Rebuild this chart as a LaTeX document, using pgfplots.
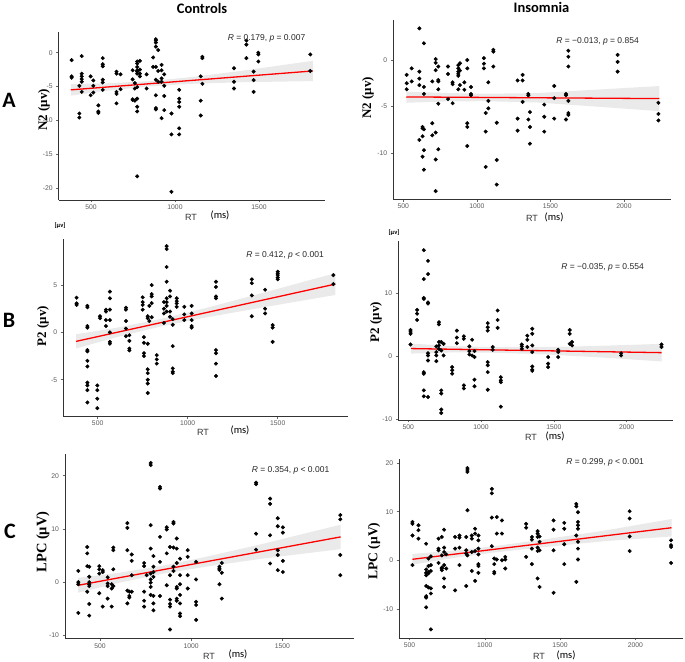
\documentclass[border=0pt]{standalone}
\usepackage{fontspec}
\setmainfont{Liberation Sans}
\newfontfamily\tnr{Liberation Serif}
\newfontfamily\calibri{Carlito}
\usepackage{pgfplots}
\pgfplotsset{compat=1.18}

\pgfplotsset{
  panel/.style={
    scale only axis, anchor=south west, clip=false,
    axis x line*=bottom, axis y line*=left,
    axis line style={black!80, line width=0.6pt, -},
    tick align=outside, major tick length=2.5pt,
    tick style={black!60, line width=0.5pt},
    ticklabel style={font=\fontsize{6.8}{7}\selectfont, text=black!65},
    xticklabel style={yshift=1pt},
    /pgf/number format/assume math mode=true,
    /pgf/number format/set thousands separator={},
  },
  ctrl/.style={panel, xmin=308, xmax=1892, xtick={500,1000,1500}},
  ins/.style={panel, xmin=432, xmax=2319, xtick={500,1000,1500,2000}},
  pts/.style={only marks, mark=*, mark size=1.8pt, black},
  band/.style={draw=none, fill=black!14, fill opacity=0.58},
  fit/.style={red, line width=1.3pt},
}

\begin{document}
\begin{tikzpicture}
\useasboundingbox (0,0) rectangle (685pt,-661pt);

% ---------- A controls
\begin{axis}[ctrl, at={(58.7pt,-199.9pt)}, width=266.2pt, height=168.1pt,
  ymin=-21.8, ymax=3.1, ytick={-20,-15,-10,-5,0}]
\addplot[pts] coordinates {
(385,-1.1)(385,-3.5)(385,-3.7)
(431,-4.9)(431,-9.0)(431,-9.6)
(445,-0.5)(445,-3.1)(445,-3.5)(445,-3.9)(445,-4.3)(445,-5.8)
(498,-3.5)(498,-6.3)
(514,-4.1)(514,-4.9)(514,-5.9)
(544,-7.8)(544,-8.7)(544,-8.9)
(570,-0.8)(570,-1.7)(570,-2.0)(570,-4.0)(570,-4.4)(570,-5.5)
(652,-2.8)(652,-3.1)(652,-5.8)(652,-6.1)(652,-7.5)
(676,-3.2)(676,-5.4)
(748,-2.6)(748,-3.95)(748,-6.9)(748,-7.0)
(761,-4.5)(761,-5.3)(761,-7.1)
(775,-1.3)(775,-1.6)(775,-2.1)(775,-2.6)(775,-2.8)(775,-3.1)(775,-5.1)(775,-6.8)(775,-8.0)(775,-8.7)(775,-18.3)
(791,-1.2)(791,-2.5)(791,-3.1)(791,-3.5)
(831,-3.2)(831,-5.3)
(870,-0.7)(870,-2.1)
(886,2.0)(886,1.8)(886,1.5)(886,0.9)(886,-2.1)(886,-4.0)(886,-6.3)(886,-8.2)(886,-8.4)
(900,0.4)(900,-2.7)(900,-4.3)
(920,-1.8)(920,-2.6)(920,-3.8)(920,-4.3)(920,-9.7)
(936,-3.2)(936,-4.9)(936,-6.4)(936,-8.5)
(979,-9.0)(979,-12.1)(979,-20.6)
(1025,-5.5)(1025,-6.8)(1025,-7.3)(1025,-8.0)(1025,-11.2)(1025,-12.1)
(1153,-3.5)(1153,-7.1)(1153,-9.3)
(1163,-0.6)(1163,-0.8)(1163,-4.6)
(1351,-2.3)(1351,-4.3)(1351,-5.3)
(1425,1.8)(1425,1.2)(1425,-0.8)
(1468,-2.8)(1468,-4.05)(1468,-5.8)
(1496,0)(1496,-0.25)(1496,-1.3)
(1805,-0.25)(1805,-2.7)
};
\addplot[band] coordinates {(380,-4.65)(600,-4.52)(850,-4.21)(1100,-3.60)(1400,-2.67)(1820,-1.20)
(1820,-4.20)(1400,-4.37)(1100,-4.60)(850,-4.97)(600,-5.62)(380,-6.35)};
\addplot[fit] coordinates {(380,-5.5)(1820,-2.7)};
\end{axis}

% ---------- A insomnia
\begin{axis}[ins, at={(393.3pt,-199.2pt)}, width=277.6pt, height=178.9pt,
  ymin=-14.97, ymax=4.27, ytick={-10,-5,0}]
\addplot[pts] coordinates {
(523,-1.6)(523,-2.5)(523,-3.15)
(557,-0.9)(557,-2.3)
(609,3.4)(609,-1.25)(609,-2.0)(609,-2.7)(609,-8.6)
(631,-7.2)(631,-7.35)(631,-8.2)(631,-10.4)
(640,1.8)(640,-2.9)(640,-3.65)(640,-7.45)(640,-9.7)(640,-11.8)
(697,-2.3)(697,-6.8)(697,-8.1)
(720,0.1)(720,-0.3)(720,-1.1)(720,-7.8)(720,-10.7)(720,-14.1)
(738,-0.7)(738,-2.15)(738,-2.3)(738,-3.15)(738,-4.7)(738,-9.6)
(804,-0.7)(804,-1.5)(804,-4.2)
(835,-2.4)(835,-2.6)(835,-4.65)
(874,-0.55)(874,-0.9)(874,-1.25)(874,-1.5)(874,-1.7)(874,-3.15)
(885,-0.35)(885,-1.15)(885,-2.7)
(915,-2.4)(915,-3.2)
(935,0)(935,-0.9)(935,-6.8)(935,-7.2)(935,-9.25)
(960,-2.9)(960,-3.65)(960,-3.8)
(1048,0.2)(1048,-0.4)(1048,-0.9)
(1060,-5.7)(1060,-7.7)(1060,-11.5)
(1078,-2.4)(1078,-4.4)(1078,-5.2)
(1112,1.1)(1112,0.9)(1112,-0.7)
(1135,-6.75)(1135,-10.75)(1135,-13.4)
(1277,-2.2)(1277,-6.3)(1277,-7.6)
(1311,-1.6)(1311,-2.2)(1311,-4.5)
(1350,-3.65)(1350,-3.8)(1350,-6.4)
(1361,-5.6)(1361,-7.2)(1361,-9.0)
(1458,-4.8)(1458,-6.1)(1458,-7.7)
(1526,-2.8)(1526,-4.1)(1526,-6.3)
(1606,-3.65)(1606,-3.8)(1606,-6.4)
(1622,1.0)(1622,0.35)(1622,-0.7)(1622,-4.4)(1622,-5.7)(1622,-5.9)
(1957,0.55)(1957,-0.2)(1957,-1.25)
(2234,-4.6)(2234,-5.8)(2234,-6.5)
};
\addplot[band] coordinates {(520,-3.4)(800,-3.55)(1050,-3.63)(1400,-3.56)(1800,-3.2)(2240,-2.8)
(2240,-5.5)(1800,-5.0)(1400,-4.56)(1050,-4.43)(800,-4.45)(520,-4.6)};
\addplot[fit] coordinates {(520,-3.97)(2240,-4.15)};
\end{axis}

% ---------- B controls
\begin{axis}[ctrl, at={(63.1pt,-416.2pt)}, width=285.2pt, height=177.1pt,
  ymin=-8.85, ymax=9.85, ytick={-5,0,5}]
\addplot[pts] coordinates {
(383,3.66)(383,3.06)(383,2.9)
(443,2.8)(443,2.65)(443,0.67)(443,0.5)(443,-1.87)(443,-2.0)(443,-3.0)(443,-3.6)(443,-5.3)(443,-5.6)(443,-6.1)(443,-7.4)
(498,-5.6)(498,-6.1)(498,-7.0)(498,-8.0)
(513,1.7)(513,1.5)
(546,2.4)(546,2.2)(546,1.3)(546,0.67)
(568,4.3)(568,3.6)(568,2.4)(568,1.3)(568,0)(568,-1.0)(568,-1.2)
(657,2.6)(657,2.4)(657,1.2)(657,0.4)(657,-0.4)
(676,-0.3)(676,-0.9)(676,-1.7)(676,-1.9)
(750,3.7)(750,3.2)(750,2.9)(750,2.4)
(757,-0.5)(757,-1.1)(757,-2.2)(757,-2.5)
(778,1.7)(778,1.5)(778,-1.2)(778,-3.9)(778,-4.3)(778,-5.0)(778,-5.4)(778,-6.4)
(787,2.8)(787,1.2)
(800,5.0)(800,4.05)(800,3.8)(800,3.1)(800,1.6)
(828,-2.4)(828,-2.85)(828,-3.3)
(868,3.2)(868,2.5)(868,2.0)(868,1.0)
(883,9.1)(883,8.8)(883,6.9)(883,5.35)(883,3.6)(883,3.2)(883,2.8)(883,2.2)
(902,4.4)(902,3.8)(902,2.2)(902,1.65)
(917,1.4)(917,0.8)(917,-1.45)(917,-3.8)(917,-4.15)(917,-4.3)
(939,3.6)(939,3.3)(939,3.06)(939,2.7)
(981,2.7)(981,1.9)(981,1.3)
(1022,2.8)(1022,2.0)(1022,1.3)(1022,0.67)(1022,0.5)
(1157,5.35)(1157,4.8)(1157,3.8)(1157,3.6)(1157,-1.87)(1157,-2.2)(1157,-3.3)(1157,-4.6)
(1356,5.6)(1356,5.2)(1356,3.9)(1356,1.7)
(1430,4.5)(1430,2.5)(1430,2.0)
(1472,0.77)(1472,0.5)(1472,-1.0)
(1500,6.4)(1500,6.2)(1500,6.05)(1500,5.8)(1500,5.6)
(1809,6.05)(1809,5.1)
};
\addplot[band] coordinates {(380,-0.2)(600,0.47)(850,1.42)(1100,2.57)(1400,4.08)(1820,6.25)
(1820,3.95)(1400,2.58)(1100,1.57)(850,0.62)(600,-0.53)(380,-1.7)};
\addplot[fit] coordinates {(380,-0.95)(1820,5.1)};
\end{axis}

% ---------- B insomnia
\begin{axis}[ins, at={(398.3pt,-419.9pt)}, width=274.8pt, height=178.5pt,
  ymin=-10.1, ymax=18.3, ytick={-10,0,10}]
\addplot[pts] coordinates {
(516,4.2)(516,3.9)(516,3.6)(516,1.9)
(561,7.4)(561,6.8)(561,5.8)
(607,16.9)(607,12.3)(607,9.3)(607,9.15)(607,-2.5)(607,-2.75)(607,-5.4)(607,-6.35)
(636,15.2)(636,13.1)(636,8.6)(636,8.4)(636,0.5)(636,0.15)(636,-0.65)(636,-6.45)
(693,1.6)(693,0.7)(693,0.15)(693,-0.75)
(711,5.45)(711,5.1)(711,2.3)(711,1.75)(711,1.2)
(727,2.3)(727,0.95)(727,-5.4)(727,-5.9)(727,-8.45)(727,-9.0)
(743,2.0)(743,0.15)
(802,-1.7)(802,-2.2)(802,-2.75)
(834,4.1)(834,3.0)(834,2.1)
(882,3.2)(882,2.8)(882,-4.6)(882,-5.1)
(920,1.6)(920,0.85)(920,0.3)
(939,2.65)(939,0.15)
(955,0.85)(955,-0.1)(955,-3.7)(955,-4.75)
(1046,5.3)(1046,4.65)(1046,4.1)(1046,-0.9)(1046,-1.4)(1046,-2.5)(1046,-5.3)
(1080,1.5)(1080,1.05)
(1114,7.3)(1114,5.8)(1114,4.55)
(1136,-3.3)(1136,-3.8)(1136,-4.1)(1136,-8.0)
(1280,1.9)(1280,1.6)(1280,1.2)
(1318,3.3)(1318,2.65)(1318,1.5)
(1352,4.4)(1352,3.6)(1352,1.75)(1352,0.7)(1352,-1.6)(1352,-2.1)(1352,-2.3)
(1461,-0.1)(1461,-1.15)(1461,-1.7)
(1530,1.05)(1530,0.7)(1530,-0.1)
(1609,4.2)(1609,3.6)(1609,2.0)
(1625,2.3)(1625,1.75)
(1962,0.5)(1962,0.15)
(2239,1.9)(2239,1.5)
};
\addplot[band] coordinates {(520,2.05)(800,1.64)(1050,1.5)(1400,1.47)(1800,1.67)(2240,2.0)
(2240,-0.8)(1800,-0.13)(1400,0.37)(1050,0.6)(800,0.64)(520,0.45)};
\addplot[fit] coordinates {(520,1.25)(2240,0.6)};
\end{axis}

% ---------- C controls
\begin{axis}[ctrl, at={(65pt,-638.5pt)}, width=288.8pt, height=184.6pt,
  ymin=-10.6, ymax=24.1, ytick={-10,0,10,20}]
\addplot[pts] coordinates {
(381,2.1)(381,0)(381,-0.4)(381,-5.8)
(430,6.6)(430,5.4)(430,3.0)(430,-1.8)
(441,2.9)(441,1.0)(441,0)(441,-0.4)(441,-0.75)(441,-4.1)(441,-6.3)
(496,3.0)(496,2.4)(496,1.6)(496,-2.1)
(515,2.25)(515,1.9)(515,-4.6)
(542,0.9)(542,-0.25)(542,-0.75)(542,-3.1)
(564,-0.4)(564,-1.2)(564,-4.6)
(573,6.5)(573,6.0)(573,2.4)(573,-0.75)
(650,11.1)(650,10.2)(650,6.0)(650,-1.6)(650,-4.0)
(661,-1.8)(661,-2.6)(661,-2.9)
(674,5.2)(674,4.0)(674,1.3)(674,-1.8)
(742,3.6)(742,3.0)(742,-1.8)(742,-3.5)(742,-4.6)
(756,1.3)
(778,22.4)(778,22.0)(778,10.7)(778,6.3)(778,1.6)(778,0.5)(778,-0.1)(778,-0.9)(778,-2.4)
(793,4.9)(793,2.9)(793,1.9)(793,1.0)(793,-2.6)(793,-4.0)(793,-5.3)
(829,17.9)(829,17.6)(829,8.5)(829,3.8)(829,-2.6)
(866,10.3)(866,9.9)(866,5.4)(866,-0.6)
(884,6.6)(884,1.3)(884,-3.3)(884,-4.1)(884,-4.6)(884,-8.9)
(903,11.3)(903,11.0)(903,6.5)(903,2.9)(903,2.1)
(921,8.2)(921,6.3)(921,3.6)(921,-0.9)(921,-1.2)(921,-3.1)(921,-3.5)
(939,4.4)(939,1.3)(939,-0.4)(939,-2.4)(939,-4.0)(939,-5.9)(939,-6.4)
(981,6.0)(981,4.75)(981,1.3)(981,-1.2)
(1027,3.8)(1027,0.5)(1027,-3.7)(1027,-4.3)(1027,-7.1)
(1155,2.9)(1155,2.6)(1155,2.3)(1155,-0.4)
(1168,3.6)(1168,1.75)(1168,-3.1)
(1356,18.7)(1356,18.4)(1356,9.1)(1356,6.1)
(1433,15.7)(1433,14.7)(1433,8.8)(1433,3.5)
(1475,12.0)(1475,10.5)(1475,6.0)(1475,5.1)(1475,2.25)
(1503,10.3)(1503,9.3)(1503,4.0)(1503,1.9)
(1818,12.6)(1818,11.8)(1818,5.1)(1818,1.3)
};
\addplot[band] coordinates {(380,0.8)(600,1.74)(850,3.12)(1100,4.9)(1400,7.25)(1820,10.8)
(1820,6.2)(1400,4.45)(1100,3.0)(850,1.62)(600,-0.16)(380,-2.0)};
\addplot[fit] coordinates {(380,-0.6)(1820,8.5)};
\end{axis}

% ---------- C insomnia
\begin{axis}[ins, at={(399.2pt,-637.9pt)}, width=284.2pt, height=178.6pt,
  ymin=-16, ymax=20.8, ytick={-10,0,10,20}]
\addplot[pts] coordinates {
(520,7.9)(520,7.5)(520,5.1)(520,-1.0)
(560,7.2)(560,6.2)(560,4.45)
(611,3.4)(611,-1.9)(611,-2.6)(611,-3.1)(611,-5.3)(611,-7.4)(611,-7.7)(611,-9.7)
(626,0.35)(626,-1.2)(626,-2.4)(626,-2.7)(626,-5.6)
(642,0.8)(642,-1.0)(642,-2.2)(642,-5.8)(642,-6.85)(642,-14.25)
(693,4.45)(693,2.4)(693,2.05)(693,-0.55)
(715,4.8)(715,1.0)(715,-1.5)(715,-1.7)(715,-2.05)
(730,6.3)(730,2.6)(730,1.7)(730,-1.0)(730,-3.75)(730,-5.5)
(744,1.2)(744,-1.7)
(803,4.8)(803,2.4)(803,-6.2)
(832,5.1)(832,4.65)(832,2.6)(832,-1.0)
(877,4.8)(877,2.05)(877,1.4)(877,-5.3)
(885,19.0)(885,18.6)(885,18.2)(885,10.3)(885,1.0)
(914,5.1)(914,4.45)(914,1.7)(914,-2.2)
(936,6.5)(936,5.5)(936,1.9)(936,-4.25)
(958,5.1)(958,4.1)(958,2.4)(958,1.2)(958,-0.8)(958,-1.2)(958,-2.6)
(1047,14.7)(1047,13.8)(1047,8.8)(1047,2.9)
(1063,0.35)(1063,-0.8)(1063,-2.4)(1063,-2.7)
(1080,8.9)(1080,5.5)(1080,0.15)
(1114,8.2)(1114,5.5)(1114,0)
(1136,0.7)(1136,0.15)(1136,-1.7)
(1275,7.5)(1275,6.7)(1275,0.7)
(1313,4.8)(1313,4.25)(1313,2.4)(1313,-0.8)
(1351,6.0)(1351,5.5)(1351,4.8)(1351,2.6)(1351,1.9)(1351,-3.75)
(1364,4.9)(1364,3.8)(1364,2.05)(1364,-5.5)
(1457,8.2)(1457,6.3)(1457,2.05)(1457,-6.7)
(1528,7.7)(1528,6.5)(1528,3.3)(1528,-0.8)
(1608,11.6)(1608,11.1)(1608,5.1)(1608,-4.45)
(1619,9.9)(1619,7.9)(1619,7.2)(1619,6.5)(1619,3.8)(1619,2.4)(1619,0.15)
(1962,10.1)(1962,8.6)(1962,4.9)(1962,1.9)
(2237,4.1)(2237,3.1)(2237,2.75)(2237,-0.55)
};
\addplot[band] coordinates {(520,1.3)(800,2.01)(1050,2.85)(1400,4.33)(1800,6.14)(2240,8.5)
(2240,4.9)(1800,3.94)(1400,2.73)(1050,1.55)(800,0.51)(520,-0.9)};
\addplot[fit] coordinates {(520,0.2)(2240,6.7)};
\end{axis}

% ---------- titles and panel letters
\node[font=\calibri\bfseries\fontsize{14.5}{16}\selectfont] at (202pt,-8pt) {Controls};
\node[font=\calibri\bfseries\fontsize{14.5}{16}\selectfont] at (541.5pt,-7pt) {Insomnia};
\node[font=\calibri\bfseries\fontsize{22}{24}\selectfont] at (9pt,-100pt) {A};
\node[font=\calibri\bfseries\fontsize{22}{24}\selectfont] at (9pt,-320pt) {B};
\node[font=\calibri\bfseries\fontsize{22}{24}\selectfont] at (10pt,-531pt) {C};

% ---------- y labels
\node[rotate=90, font=\tnr\bfseries\fontsize{13}{14}\selectfont] at (44pt,-110pt) {N2 (μv)};
\node[rotate=90, font=\tnr\bfseries\fontsize{13}{14}\selectfont] at (368pt,-98pt) {N2 (μv)};
\node[rotate=90, font=\tnr\bfseries\fontsize{13}{14}\selectfont] at (43pt,-326pt) {P2 (μv)};
\node[rotate=90, font=\tnr\bfseries\fontsize{13}{14}\selectfont] at (376pt,-322pt) {P2 (μv)};
\node[rotate=90, font=\tnr\bfseries\fontsize{14.5}{15}\selectfont] at (43pt,-542pt) {LPC (μV)};
\node[rotate=90, font=\tnr\bfseries\fontsize{13.5}{14}\selectfont] at (374pt,-551pt) {LPC (μV)};
\node[font=\calibri\bfseries\fontsize{6.5}{7}\selectfont] at (60pt,-226pt) {[μv]};
\node[font=\calibri\bfseries\fontsize{6.5}{7}\selectfont] at (394pt,-233pt) {[μv]};

% ---------- x labels
\foreach \rx/\ry/\mx/\my in {191/217/220/215, 532/218/554/217, 203/432/240/430, 531/437/555/436, 209/656/238/654, 539/656/566/655}{
  \node[font=\fontsize{9}{10}\selectfont, text=black!80] at (\rx pt,-\ry pt) {RT};
  \node[font=\calibri\fontsize{10.5}{11}\selectfont] at (\mx pt,-\my pt) {(ms)};
}

% ---------- statistics
\node[font=\fontsize{8.5}{10}\selectfont, text=black!85] at (266.5pt,-38pt) {\textit{R} = 0.179, \textit{p} = 0.007};
\node[font=\fontsize{8.5}{10}\selectfont, text=black!85] at (597.5pt,-41pt) {\textit{R} = −0.013, \textit{p} = 0.854};
\node[font=\fontsize{8.5}{10}\selectfont, text=black!85] at (285pt,-255pt) {\textit{R} = 0.412, \textit{p} < 0.001};
\node[font=\fontsize{8.5}{10}\selectfont, text=black!85] at (602.5pt,-267.7pt) {\textit{R} = −0.035, \textit{p} = 0.554};
\node[font=\fontsize{8.5}{10}\selectfont, text=black!85] at (290.5pt,-470pt) {\textit{R} = 0.354, \textit{p} < 0.001};
\node[font=\fontsize{8.5}{10}\selectfont, text=black!85] at (605pt,-462.7pt) {\textit{R} = 0.299, \textit{p} < 0.001};
\end{tikzpicture}
\end{document}
